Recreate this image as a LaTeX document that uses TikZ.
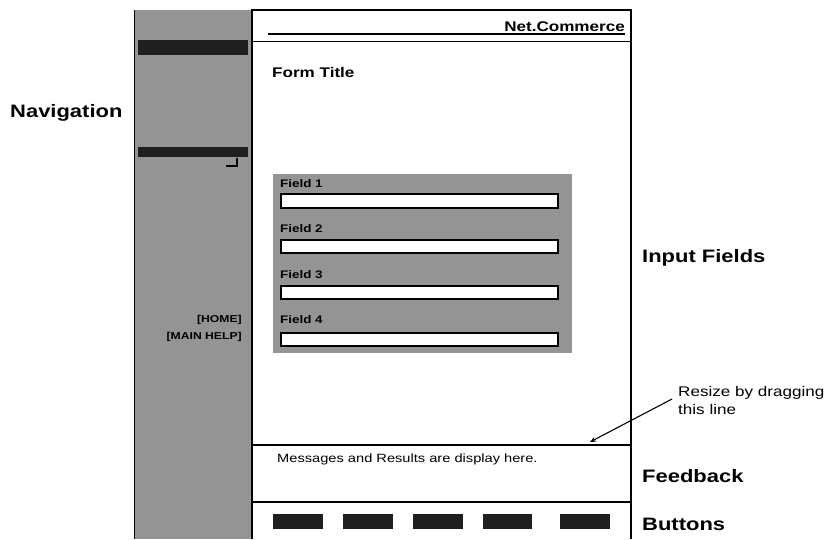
\documentclass[tikz,border=0pt]{standalone}
\usepackage{fontspec}
\setmainfont{Liberation Sans}[FakeStretch=1.22]
\usetikzlibrary{arrows.meta}
\begin{document}
\begin{tikzpicture}[x=1pt,y=-1pt,
  shade/.style={fill=black!42},
  darkbar/.style={fill=black!88},
  fieldbox/.style={draw=black,line width=1.6pt,fill=white},
  frameline/.style={line width=1.6pt},
  biglab/.style={font=\fontsize{18}{20}\selectfont\bfseries,inner sep=0pt},
  midlab/.style={font=\fontsize{14}{16}\selectfont\bfseries,inner sep=0pt},
  fieldlab/.style={font=\fontsize{11}{12}\selectfont\bfseries,inner sep=0pt},
  navlab/.style={font=\fontsize{10}{12}\selectfont\bfseries,inner sep=0pt},
  plainlab/.style={font=\fontsize{14}{16}\selectfont,inner sep=0pt},
  msglab/.style={font=\fontsize{12}{14}\selectfont,inner sep=0pt}]
\useasboundingbox (0,0) rectangle (830,539);
% navigation column
\fill[shade] (134,10) rectangle (252,539);
\draw[line width=0.5pt] (134,10) -- (134,539);
\fill[darkbar] (138,40) rectangle (248,55);
\fill[darkbar] (138,147) rectangle (248,157);
\draw[line width=1.4pt] (237,158) -- (237,166) -- (226,166);
\node[navlab,anchor=base east] (home) at (242,322) {[HOME]};
\node[navlab,anchor=base east] (mainhelp) at (242,339) {[MAIN HELP]};
% main panel
\draw[frameline] (252,539) -- (252,10) -- (631,10) -- (631,539);
\draw[frameline] (252,41.5) -- (631,41.5);
\draw[frameline] (268,34) -- (625,34);
\node[midlab,anchor=base east] (brand) at (625,31) {Net.Commerce};
\node[midlab,anchor=base west] (formtitle) at (272,77) {Form Title};
% input fields
\fill[shade] (273,174) rectangle (572,353);
\node[fieldlab,anchor=base west] (f1) at (280,187) {Field 1};
\node[fieldlab,anchor=base west] (f2) at (280,232) {Field 2};
\node[fieldlab,anchor=base west] (f3) at (280,278) {Field 3};
\node[fieldlab,anchor=base west] (f4) at (280,323) {Field 4};
\draw[fieldbox] (281,194) rectangle (558,208);
\draw[fieldbox] (281,240) rectangle (558,253);
\draw[fieldbox] (281,286) rectangle (558,299);
\draw[fieldbox] (281,333) rectangle (558,346);
% feedback and buttons
\draw[frameline] (252,445) -- (631,445);
\draw[frameline] (252,502) -- (631,502);
\node[msglab,anchor=base west] (msg) at (277,462) {Messages and Results are display here.};
\fill[darkbar] (273,514) rectangle (323,529);
\fill[darkbar] (343,514) rectangle (393,529);
\fill[darkbar] (413,514) rectangle (463,529);
\fill[darkbar] (483,514) rectangle (532,529);
\fill[darkbar] (560,514) rectangle (610,529);
% side labels
\node[biglab,anchor=base west] (nav) at (10,117) {Navigation};
\node[biglab,anchor=base west] (inp) at (642,262) {Input Fields};
\node[biglab,anchor=base west] (fb) at (642,482) {Feedback};
\node[biglab,anchor=base west] (btn) at (642,530) {Buttons};
\node[plainlab,anchor=base west] (resize) at (678,396) {Resize by dragging};
\node[plainlab,anchor=base west] (thisline) at (678,414) {this line};
\coordinate (astart) at (672,399);
\coordinate (atip) at (590,442);
\draw[line width=1.1pt,-{Stealth[length=6pt,width=5pt]}] (astart) -- (atip);
\end{tikzpicture}
\end{document}
